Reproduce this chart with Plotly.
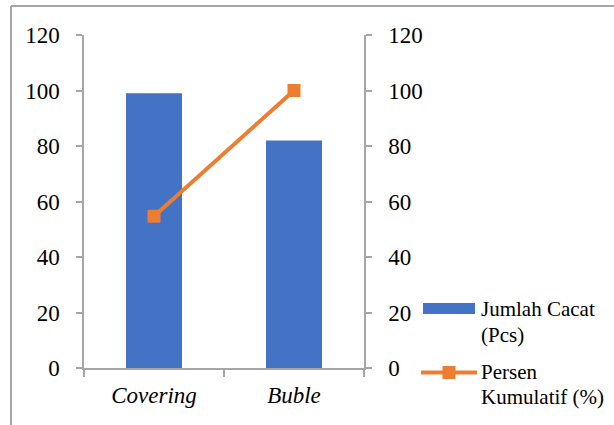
import plotly.graph_objects as go

categories = ["Covering", "Buble"]
jumlah_cacat = [99, 82]
persen_kumulatif = [54.7, 100]
tick_vals = [0, 20, 40, 60, 80, 100, 120]
tick_text = ["0", "20", "40", "60", "80", "100", "120"]

BLUE = "#4472C4"
ORANGE = "#ED7D31"
AXIS = "#A6A6A6"
FONT = "Liberation Serif"

W, H = 614, 425
L, R, T, B = 84, 250, 35, 57
PW, PH = W - L - R, H - T - B


def px(x):
    return (x - L) / PW


def py(y):
    return (H - B - y) / PH


fig = go.Figure()
fig.add_trace(go.Bar(
    x=[f"<i>{c}</i>" for c in categories], y=jumlah_cacat, name="Jumlah Cacat (Pcs)",
    marker=dict(color=BLUE, line=dict(width=0)), width=0.4, yaxis="y",
    showlegend=False,
))
fig.add_trace(go.Scatter(
    x=[f"<i>{c}</i>" for c in categories], y=persen_kumulatif, name="Persen Kumulatif (%)",
    mode="lines+markers", line=dict(color=ORANGE, width=4),
    marker=dict(symbol="square", size=13, color=ORANGE), yaxis="y2",
    showlegend=False,
))

axis_common = dict(
    range=[0, 120], tickvals=tick_vals, ticktext=tick_text,
    showgrid=False, zeroline=False, showline=True, linecolor=AXIS, linewidth=1.5,
    ticks="outside", ticklen=6, tickcolor=AXIS, tickwidth=1.5,
    tickfont=dict(family=FONT, size=23, color="#000"),
    ticklabelstandoff=12, fixedrange=True,
)

fig.update_layout(
    width=W, height=H,
    margin=dict(l=L, r=R, t=T, b=B, pad=0),
    paper_bgcolor="white", plot_bgcolor="white",
    font=dict(family=FONT, size=21, color="#000"),
    xaxis=dict(
        type="category", tickson="boundaries", showgrid=False, showline=True,
        linecolor=AXIS, linewidth=1.5, ticks="outside", ticklen=7, tickcolor=AXIS,
        tickwidth=1.5, tickfont=dict(family=FONT, size=23, color="#000"),
        ticklabelstandoff=6, range=[-0.5, 1.5], fixedrange=True,
    ),
    yaxis=dict(side="left", **axis_common),
    yaxis2=dict(side="right", overlaying="y", **axis_common),
    showlegend=False,
)

shapes = [
    # chart border: top and left edges (right/bottom fall outside the picture)
    dict(type="line", xref="paper", yref="paper",
         x0=px(11), x1=px(614), y0=py(6), y1=py(6),
         line=dict(color="#A6A6A6", width=2), layer="below"),
    dict(type="line", xref="paper", yref="paper",
         x0=px(11), x1=px(11), y0=py(6), y1=py(425),
         line=dict(color="#A6A6A6", width=2), layer="below"),
    # legend: bar symbol
    dict(type="rect", xref="paper", yref="paper",
         x0=px(423), x1=px(475), y0=py(314), y1=py(303),
         line=dict(width=0), fillcolor=BLUE),
    # legend: line symbol
    dict(type="line", xref="paper", yref="paper",
         x0=px(421), x1=px(477), y0=py(372.5), y1=py(372.5),
         line=dict(color=ORANGE, width=4)),
    dict(type="rect", xref="paper", yref="paper",
         x0=px(442.5), x1=px(455.5), y0=py(379), y1=py(366),
         line=dict(width=0), fillcolor=ORANGE),
]
fig.update_layout(shapes=shapes)

legend_text = [
    ("Jumlah Cacat", 309),
    ("(Pcs)", 335),
    ("Persen", 372),
    ("Kumulatif (%)", 397),
]
for txt, yc in legend_text:
    fig.add_annotation(
        xref="paper", yref="paper", x=px(479), y=py(yc), text=txt,
        showarrow=False, xanchor="left", yanchor="middle",
        font=dict(family=FONT, size=21, color="#000"),
    )

fig.write_html(
    "out.html",
    config={"displayModeBar": False},
    post_script="document.body.style.margin='0px';document.body.style.padding='0px';",
)
